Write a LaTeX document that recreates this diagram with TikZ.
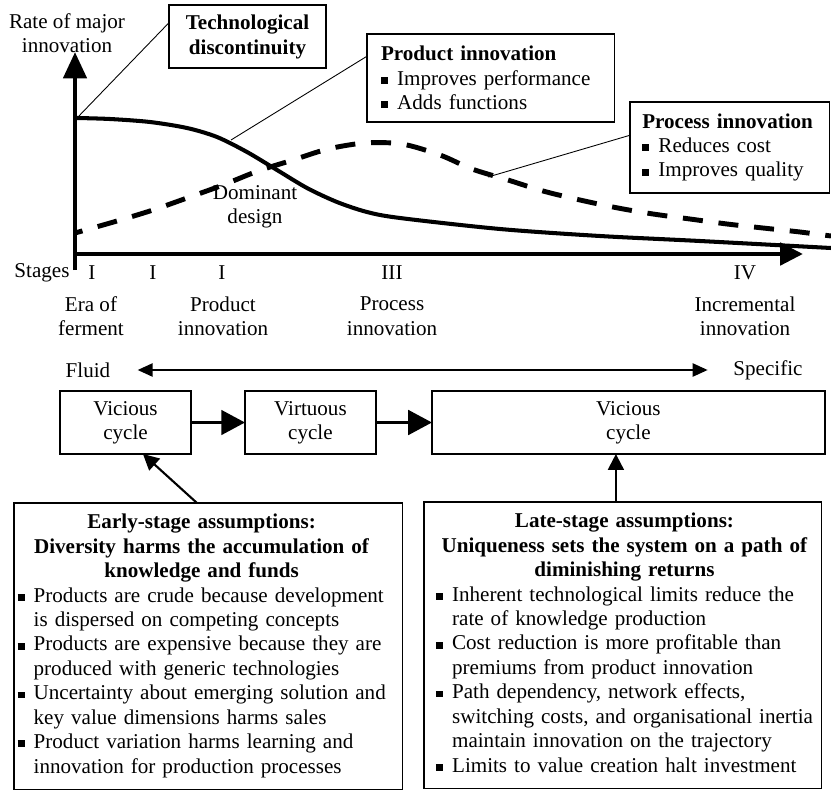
\documentclass[tikz,border=0pt]{standalone}
\usepackage{fontspec}
\setmainfont{Liberation Serif}
\usetikzlibrary{positioning,arrows.meta}
\newcommand{\bul}{\makebox[9.2pt][l]{\rule[0.8pt]{4pt}{3.9pt}}}

\begin{document}
\begin{tikzpicture}
[
x=0.02cm, y=-0.02cm,
font=\fontsize{12}{13.9}\selectfont,
axisline/.style={line width=2.8pt},
plainlabel/.style={inner sep=0, align=center},
squarednode/.style={rectangle, draw, line width=1.2pt, outer sep=0, align=center, minimum width=2.62cm, minimum height=1.26cm},
notebox/.style={rectangle, draw, line width=0.6pt, outer sep=0, anchor=north west, align=left, inner xsep=8pt, inner ysep=4pt},
pointer/.style={line width=0.5pt},
flow/.style={line width=1.7pt, -{Triangle[length=13.5pt,width=14pt]}},
assumearrow/.style={line width=1.2pt, -{Triangle[length=9pt,width=9pt]}},
node distance=1.08cm
]
\useasboundingbox (0,0) rectangle (831,791);

% axes
\coordinate (corner) at (75,270);
\coordinate (ytip) at (75,52);
\coordinate (xstart) at (75,254);
\coordinate (xtip) at (803,254);
\draw[axisline, -{Triangle[length=15pt,width=13pt]}] (corner) -- (ytip);
\draw[axisline, -{Triangle[length=13pt,width=12.5pt]}] (xstart) -- (xtip);

% product and process curves
\draw[line width=2.3pt] plot[smooth, tension=0.5] coordinates {(77,118) (110,119) (150,122) (187,128) (217,137) (247,152) (277,170) (307,188) (337,202) (367,212) (400,218) (500,229) (600,236) (700,241) (831,248)};
\draw[line width=2.8pt, dash pattern=on 11.4pt off 9pt, dash phase=7pt] plot[smooth, tension=0.5] coordinates {(75,233) (117,221) (153,210) (187,198) (223,185) (258,171) (293,160) (328,149) (365,143) (402,144) (440,155) (472,169) (508,180) (543,191) (580,200) (618,208) (653,214) (690,219) (727,224) (763,228) (800,232) (831,236)};
\coordinate (disc) at (77,118);
\coordinate (prodpt) at (231,140);
\coordinate (procpt) at (488,177);

\node[plainlabel] (rate) at (67,33) {Rate of major\\innovation};
\node[plainlabel] (dominant) at (255,207) {Dominant\\design};

\node[squarednode, line width=0.6pt, minimum width=3.14cm, font=\fontsize{12}{14.2}\selectfont\bfseries] (techdisc) at (247.5,36.5) {Technological\\discontinuity};
\node[notebox, text width=4.38cm, minimum height=1.76cm] (prodbox) at (367,34) {\textbf{Product innovation}\\ \bul Improves performance\\ \bul Adds functions};
\node[notebox, inner xsep=7pt, text width=3.5cm, minimum height=1.82cm] (procbox) at (630,102) {\textbf{Process innovation}\\ \bul Reduces cost\\ \bul Improves quality};
\draw[pointer] (techdisc.170) -- (disc);
\draw[pointer] (prodbox.170) -- (prodpt);
\draw[pointer] (procbox.173) -- (procpt);

% stages
\node[plainlabel] (stages) at (42,273) {Stages};
\foreach \x/\num in {92/I,153/I,222/I,392/III,745/IV}
  \node[plainlabel] (num\x) at (\x,273) {\num};
\foreach \x/\txt in {91/Era of\\ferment,223/Product\\innovation,392/Process\\innovation,745/Incremental\\innovation}
  \node[plainlabel] (era\x) at (\x,316) {\txt};

\node[plainlabel] (fluid) at (88,370) {Fluid};
\node[plainlabel] (specific) at (768,370) {Specific};
\draw[line width=1pt, {Triangle[length=8.5pt,width=7.5pt]}-{Triangle[length=8.5pt,width=7.5pt]}, shorten <=15.4pt, shorten >=14.5pt] (fluid) -- (specific);

% cycles
\node[squarednode] (vicious1) at (125.5,422.5) {Vicious\\cycle};
\node[squarednode, right=of vicious1] (virtuous) {Virtuous\\cycle};
\node[squarednode, minimum width=7.86cm, right=1.12cm of virtuous] (vicious2) {Vicious\\cycle};
\draw[flow] (vicious1) -- (virtuous);
\draw[flow] (virtuous) -- (vicious2);

% assumptions
\node[notebox, inner xsep=2pt, inner ysep=5pt, text width=7.64cm] (early) at (14,503) {%
\begin{tabular}{@{}l@{}l@{}}
\multicolumn{2}{@{}c@{}}{\textbf{Early-stage assumptions:}}\\
\multicolumn{2}{@{}c@{}}{\textbf{Diversity harms the accumulation of}}\\
\multicolumn{2}{@{}c@{}}{\textbf{knowledge and funds}}\\
\bul & Products are crude because development\\
 & is dispersed on competing concepts\\
\bul & Products are expensive because they are\\
 & produced with generic technologies\\
\bul & Uncertainty about emerging solution and\\
 & key value dimensions harms sales\\
\bul & Product variation harms learning and\\
 & innovation for production processes
\end{tabular}};
\node[notebox, inner xsep=6.8pt, inner ysep=5pt, text width=7.48cm] (late) at (424,502) {%
\begin{tabular}{@{}l@{}l@{}}
\multicolumn{2}{@{}c@{}}{\textbf{Late-stage assumptions:}}\\
\multicolumn{2}{@{}c@{}}{\textbf{Uniqueness sets the system on a path of}}\\
\multicolumn{2}{@{}c@{}}{\textbf{diminishing returns}}\\
\bul & Inherent technological limits reduce the\\
 & rate of knowledge production\\
\bul & Cost reduction is more profitable than\\
 & premiums from product innovation\\
\bul & Path dependency, network effects,\\
 & switching costs, and organisational inertia\\
 & maintain innovation on the trajectory\\
\bul & Limits to value creation halt investment
\end{tabular}};
\draw[assumearrow] ([xshift=-0.23cm]early.north) -- (vicious1.-61);
\draw[assumearrow] ([xshift=-0.14cm]late.north) -- ([xshift=-0.14cm]late.north |- vicious2.south);
\end{tikzpicture}
\end{document}
